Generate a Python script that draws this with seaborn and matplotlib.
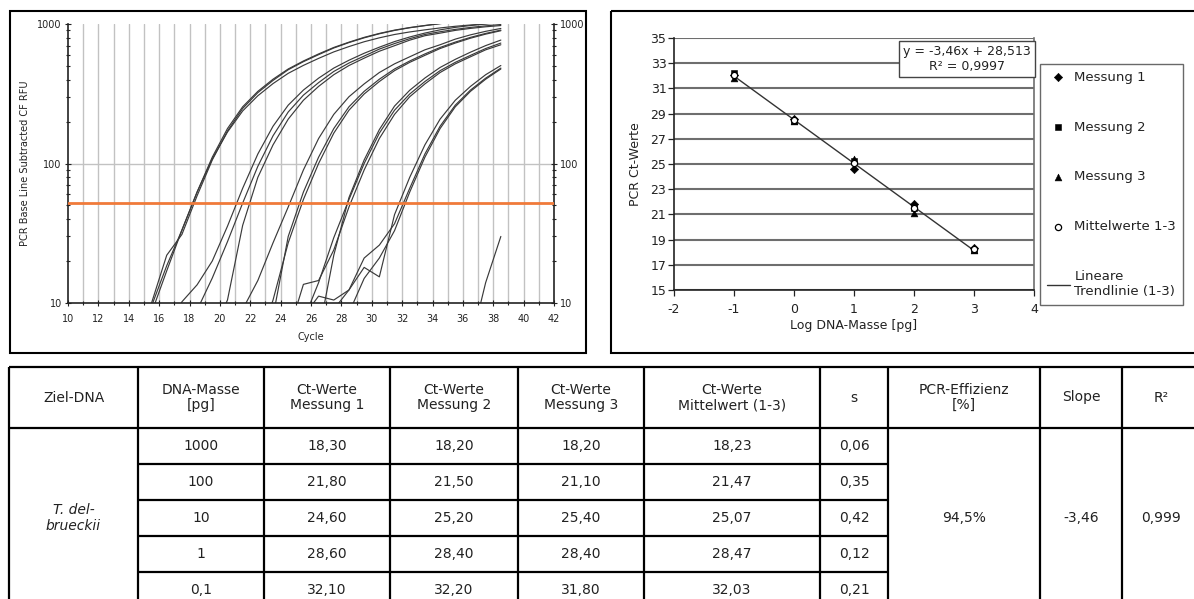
import numpy as np
import pandas as pd
import matplotlib
matplotlib.use("Agg")
import matplotlib.pyplot as plt
from matplotlib.patches import Rectangle
from matplotlib.ticker import LogLocator, NullFormatter
import seaborn as sns

cycles = [14.5, 15.5, 16.5, 17.5, 18.5, 19.5, 20.5, 21.5, 22.5, 23.5, 24.5, 25.5,
          26.5, 27.5, 28.5, 29.5, 30.5, 31.5, 32.5, 33.5, 34.5, 35.5, 36.5, 37.5, 38.5]

rfu_1000_a = [5, 10, 22, 31, 58.7, 106, 171, 248, 322, 394, 470, 537, 603, 673, 736,
              796, 851, 899, 940, 973, 1006, 1033, 1056, 1076, 1101]
rfu_1000_b = [4.5, 8.5, 17, 33.3, 62.4, 111, 178, 255, 329, 402, 476, 543, 610, 679, 741,
              802, 856, 904, 943, 976, 1008, 1035, 1058, 1079, 1103]
rfu_1000_c = [5, 9.5, 18.5, 33.3, 62.4, 108, 168, 238, 306, 374, 443, 505, 567, 631, 689,
              746, 796, 841, 877, 908, 937, 963, 984, 1003, 1026]
rfu_100_a = [2, 2.5, 3.3, 4, 4.5, 6, 10.5, 36, 79.6, 136, 208, 284, 357, 433, 504,
             569, 638, 699, 766, 824, 860, 900, 930, 955, 975]
rfu_100_b = [2.2, 2.9, 3.5, 5.5, 8.9, 15.1, 27.5, 52, 95.5, 158, 234, 309, 380, 457, 525,
             589, 661, 724, 785, 841, 880, 915, 945, 970, 992]
rfu_100_c = [4, 5, 6, 10.2, 13.5, 20, 35.5, 66.4, 117, 185, 262, 336, 409, 483, 550,
             617, 682, 748, 807, 861, 908, 946, 975, 1000, 1020]
rfu_10_a = [1.5, 1.8, 2.1, 2.5, 3.0, 3.5, 4.5, 9, 14.5, 27, 48.8, 89.9, 151, 225, 301,
            372, 449, 518, 582, 653, 710, 779, 836, 886, 929]
rfu_10_b = [1.4, 1.6, 1.9, 2.2, 2.6, 3.0, 3.6, 4.3, 5.2, 8, 30, 62.4, 111, 178, 255,
            329, 402, 476, 543, 610, 679, 742, 802, 856, 904]
rfu_10_c = [1.3, 1.5, 1.8, 2.1, 2.5, 2.9, 3.4, 4.1, 5, 10.5, 27, 55.2, 100, 165, 241,
            315, 387, 463, 531, 596, 667, 730, 791, 846, 895]
rfu_1_a = [1.2, 1.3, 1.5, 1.7, 1.9, 2.2, 2.6, 3.0, 3.6, 4.3, 6, 13.6, 14.5, 24, 48.8,
           89.9, 151, 225, 301, 372, 449, 518, 582, 653, 710]
rfu_1_b = [1.2, 1.3, 1.5, 1.7, 1.9, 2.2, 2.6, 3.0, 3.6, 4.0, 4.5, 7.5, 14, 29.4, 55.2,
           100, 165, 241, 315, 387, 463, 531, 596, 667, 730]
rfu_1_c = [1.1, 1.2, 1.4, 1.6, 1.8, 2.0, 2.4, 2.8, 3.3, 3.8, 4.2, 4.5, 6, 22, 57,
           106, 175, 258, 335, 410, 488, 558, 628, 700, 767]
rfu_01_a = [1.1, 1.2, 1.3, 1.5, 1.7, 1.9, 2.2, 2.5, 2.9, 3.4, 4.0, 5, 8, 9, 12.4,
            21, 26, 37, 66.4, 117, 185, 262, 336, 409, 483]
rfu_01_b = [1.0, 1.1, 1.2, 1.4, 1.6, 1.8, 2.0, 2.3, 2.7, 3.1, 3.6, 4.1, 4.6, 5, 8.5,
            15, 21, 33, 62.4, 111, 178, 255, 329, 402, 476]
rfu_01_c = [1.2, 1.3, 1.5, 1.7, 1.9, 2.2, 2.6, 3.0, 3.6, 4.2, 5, 8, 11.2, 10.5, 12.4,
            18, 15.4, 43, 79.6, 136, 208, 284, 357, 433, 504]
rfu_ntc = [1.0, 1.0, 1.0, 1.0, 1.0, 1.0, 1.0, 1.0, 1.0, 1.0, 1.0, 1.0, 1.0, 1.0, 1.0,
           1.0, 1.0, 1.0, 1.0, 1.0, 1.0, 1.0, 5, 14, 30]
threshold_rfu = 52

# --- Standardkurve ---
log_mass = [3, 2, 1, 0, -1]
ct_m1 = [18.30, 21.80, 24.60, 28.60, 32.10]
ct_m2 = [18.20, 21.50, 25.20, 28.40, 32.20]
ct_m3 = [18.20, 21.10, 25.40, 28.40, 31.80]
ct_mean = [18.23, 21.47, 25.07, 28.47, 32.03]
equation = "y = -3,46x + 28,513\nR² = 0,9997"

# --- Tabelle ---
table_header = ["Ziel-DNA", "DNA-Masse\n[pg]", "Ct-Werte\nMessung 1", "Ct-Werte\nMessung 2",
                "Ct-Werte\nMessung 3", "Ct-Werte\nMittelwert (1-3)", "s",
                "PCR-Effizienz\n[%]", "Slope", "R²"]
mass_labels = ["1000", "100", "10", "1", "0,1"]
target_dna = "T. del-\nbrueckii"
efficiency = "94,5%"
slope_txt = "-3,46"
r2_txt = "0,999"

curves = {
    "1000a": rfu_1000_a, "1000b": rfu_1000_b, "1000c": rfu_1000_c,
    "100a": rfu_100_a, "100b": rfu_100_b, "100c": rfu_100_c,
    "10a": rfu_10_a, "10b": rfu_10_b, "10c": rfu_10_c,
    "1a": rfu_1_a, "1b": rfu_1_b, "1c": rfu_1_c,
    "01a": rfu_01_a, "01b": rfu_01_b, "01c": rfu_01_c,
    "ntc": rfu_ntc,
}
curve_df = (pd.DataFrame(curves, index=cycles).rename_axis("Cycle").reset_index()
            .melt(id_vars="Cycle", var_name="Kurve", value_name="RFU"))

W, H = 1194, 599
sns.set_style("white")
plt.rcParams["font.family"] = ["DejaVu Sans"]
plt.rcParams["axes.unicode_minus"] = False

fig = plt.figure(figsize=(W / 100, H / 100), dpi=100)

# Hintergrund-Ebene in Pixelkoordinaten (Rahmen + Tabelle)
bg = fig.add_axes([0, 0, 1, 1])
bg.set_xlim(0, W)
bg.set_ylim(H, 0)
bg.axis("off")
bg.add_patch(Rectangle((10, 11), 576, 342, fill=False, lw=1.5, ec="black"))
bg.add_patch(Rectangle((611, 11), 600, 342, fill=False, lw=1.5, ec="black"))

# ---------------- linke Grafik: Amplifikationskurven ----------------
ax1 = fig.add_axes([68 / W, 1 - 303 / H, 486 / W, 279 / H])
ax1.set_yscale("log")
sns.lineplot(data=curve_df, x="Cycle", y="RFU", units="Kurve", estimator=None,
             color="#3a3a3a", lw=0.85, ax=ax1, legend=False)
ax1.axhline(threshold_rfu, color="#F07A3A", lw=2.0, zorder=4)
for c in range(11, 42):
    ax1.axvline(c, color="#c2c2c2", lw=1.0, zorder=0)
ax1.axhline(100, color="#c2c2c2", lw=1.0, zorder=0)
ax1.set_xlim(10, 42)
ax1.set_ylim(10, 1000)
ax1.set_xticks(range(10, 43, 2))
ax1.set_xticks(range(11, 42, 2), minor=True)
ax1.set_yticks([10, 100, 1000], labels=["10", "100", "1000"])
ax1.yaxis.set_minor_locator(LogLocator(base=10, subs=range(2, 10)))
ax1.yaxis.set_minor_formatter(NullFormatter())
ax1.tick_params(axis="both", which="both", direction="inout", colors="#222",
                labelsize=7, width=0.8)
ax1.tick_params(axis="both", which="major", length=5)
ax1.tick_params(axis="both", which="minor", length=3)
ax1.tick_params(axis="x", which="both", bottom=True, pad=5.5)
ax1.tick_params(axis="y", which="both", left=True, right=True,
                labelleft=True, labelright=True, pad=2)
for side in ["left", "bottom", "right"]:
    ax1.spines[side].set_color("#222")
    ax1.spines[side].set_linewidth(1.2)
ax1.spines["top"].set_visible(False)
ax1.set_xlabel("Cycle", fontsize=7, color="#222")
ax1.xaxis.set_label_coords(0.5, -0.105)
ax1.set_ylabel("PCR Base Line Subtracted CF RFU", fontsize=7, color="#222")
ax1.yaxis.set_label_coords(-0.078, 0.5)

# ---------------- rechte Grafik: Standardkurve ----------------
ax2 = fig.add_axes([674 / W, 1 - 290 / H, 360 / W, 252 / H])
sns.regplot(x=log_mass, y=ct_mean, ci=None, scatter=False, truncate=True, color="#333",
            line_kws={"lw": 1.0, "zorder": 2}, label="Lineare\nTrendlinie (1-3)", ax=ax2)
sns.scatterplot(x=log_mass, y=ct_m1, marker="D", color="black", edgecolor="black",
                linewidth=0.4, s=18, ax=ax2, label="Messung 1", zorder=3)
sns.scatterplot(x=log_mass, y=ct_m2, marker="s", color="black", edgecolor="black",
                linewidth=0.4, s=22, ax=ax2, label="Messung 2", zorder=3)
sns.scatterplot(x=log_mass, y=ct_m3, marker="^", color="black", edgecolor="black",
                linewidth=0.4, s=24, ax=ax2, label="Messung 3", zorder=3)
sns.scatterplot(x=log_mass, y=ct_mean, marker="o", color="white", edgecolor="black",
                linewidth=0.9, s=20, ax=ax2, label="Mittelwerte 1-3", zorder=4)
ax2.set_xlim(-2, 4)
ax2.set_ylim(15, 35)
ax2.set_xticks(range(-2, 5))
ax2.set_yticks(range(15, 36, 2))
ax2.grid(axis="y", color="#6e6e6e", lw=1.5)
ax2.set_axisbelow(True)
ax2.tick_params(axis="both", which="major", direction="out", length=4, width=0.9,
                colors="#222", labelsize=9, left=True, bottom=True)
ax2.tick_params(axis="x", pad=5)
ax2.tick_params(axis="y", pad=1.5)
for side in ["left", "bottom"]:
    ax2.spines[side].set_color("#222")
    ax2.spines[side].set_linewidth(1.2)
ax2.spines["right"].set_color("#6e6e6e")
ax2.spines["right"].set_linewidth(1.2)
ax2.spines["top"].set_visible(False)
ax2.set_xlabel("Log DNA-Masse [pg]", fontsize=9, color="#222")
ax2.xaxis.set_label_coords(0.5, -0.115)
ax2.set_ylabel("PCR Ct-Werte", fontsize=9, color="#222")
ax2.yaxis.set_label_coords(-0.09, 0.5)

handles, labels = ax2.get_legend_handles_labels()
order = [1, 2, 3, 4, 0]
leg = ax2.legend([handles[i] for i in order], [labels[i] for i in order],
                 loc="upper left", bbox_to_anchor=(1040 / W, 1 - 64 / H),
                 bbox_transform=fig.transFigure, borderaxespad=0, frameon=True,
                 fancybox=False, edgecolor="#444", fontsize=9.5, labelspacing=2.8,
                 borderpad=0.5, handlelength=1.8, handletextpad=0.3)
leg.get_frame().set_linewidth(1.0)
for t in leg.get_texts():
    t.set_color("#222")

fig.text(967 / W, 1 - 59 / H, equation, ha="center", va="center", fontsize=9,
         color="#222", multialignment="center",
         bbox=dict(boxstyle="square,pad=0.35", fc="white", ec="#444", lw=1.0))

# ---------------- Tabelle ----------------
col_edges = [9, 138, 264, 390, 518, 644, 820, 888, 1040, 1122, 1200]
row_edges = [367, 428, 464, 500, 536, 572, 608]
line_kw = dict(color="black", lw=1.6)
bg.hlines(row_edges[:2], col_edges[0], col_edges[-1], **line_kw)
bg.hlines(row_edges[2:-1], col_edges[1], col_edges[7], **line_kw)
bg.hlines(row_edges[-1], col_edges[0], col_edges[-1], **line_kw)
bg.vlines(col_edges, row_edges[0], row_edges[-1], **line_kw)

cx = [(a + b) / 2 for a, b in zip(col_edges[:-1], col_edges[1:])]
ry = [(a + b) / 2 for a, b in zip(row_edges[:-1], row_edges[1:])]
txt_kw = dict(ha="center", va="center", fontsize=10, color="#222", linespacing=1.15)

for j, head in enumerate(table_header):
    bg.text(cx[j], ry[0], head, **txt_kw)

s_values = np.std(np.array([ct_m1, ct_m2, ct_m3]), axis=0, ddof=1)
def fmt(v):
    return f"{v:.2f}".replace(".", ",")

for i in range(len(mass_labels)):
    y = ry[i + 1]
    bg.text(cx[1], y, mass_labels[i], **txt_kw)
    for j, series in enumerate([ct_m1, ct_m2, ct_m3, ct_mean]):
        bg.text(cx[2 + j], y, fmt(series[i]), **txt_kw)
    bg.text(cx[6], y, fmt(s_values[i]), **txt_kw)

merged_y = (row_edges[1] + row_edges[-1]) / 2
bg.text(cx[0], merged_y, target_dna, style="italic", **txt_kw)
bg.text(cx[7], merged_y, efficiency, **txt_kw)
bg.text(cx[8], merged_y, slope_txt, **txt_kw)
bg.text(cx[9], merged_y, r2_txt, **txt_kw)

fig.savefig("out.png", dpi=100, facecolor="white")
